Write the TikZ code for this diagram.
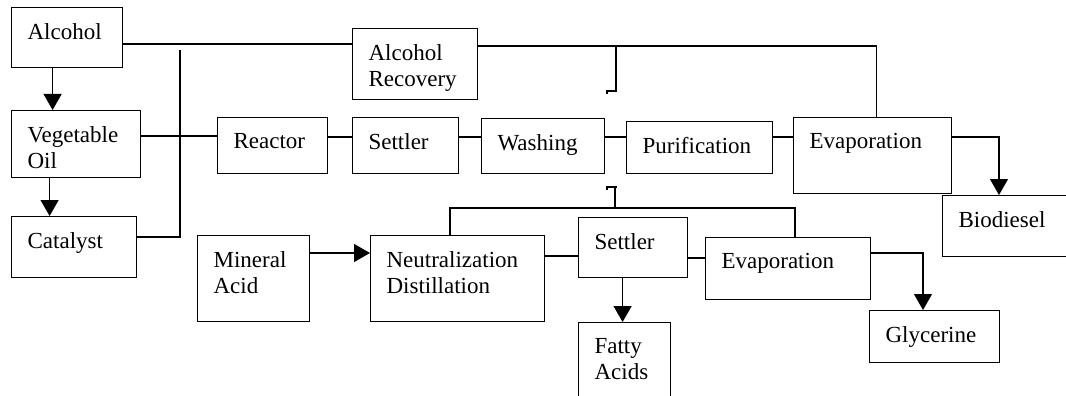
\documentclass[tikz,border=0pt]{standalone}
\usepackage{fontspec}
\setmainfont{Liberation Serif}
\usetikzlibrary{arrows.meta}

\begin{document}
\begin{tikzpicture}[x=1pt,y=-1pt,line width=1.2pt,>={Triangle[width=18pt,length=16pt]}]
    \useasboundingbox (0,0) rectangle (1066,396);
    \tikzstyle{box}=[draw,rectangle,inner sep=0pt,anchor=north west]
    \tikzstyle{lbl}=[anchor=north west,inner sep=0pt,xshift=16pt,yshift=-16pt,align=left,font=\fontsize{23}{26}\selectfont]

    \foreach \n/\x/\y/\w/\h/\txt in {
        alcohol/11/7/111/60/Alcohol,
        veg_oil/11/110/129/67/{Vegetable\\Oil},
        catalyst/11/216/125/61/Catalyst,
        recovery/352/28/125/71/{Alcohol\\Recovery},
        reactor/217/117/110/56/Reactor,
        settler_1/352/117/106/56/Settler,
        washing/481/118/123/55/Washing,
        purification/626/121/146/52/Purification,
        evap_1/793/117/158/76/Evaporation,
        biodiesel/942/195/128/61/Biodiesel,
        mineral/197/235/112/86/{Mineral\\Acid},
        neutral/370/235/174/86/{Neutralization\\Distillation},
        settler_2/578/217/109/60/Settler,
        fatty/578/322/92/80/{Fatty\\Acids},
        evap_2/705/237/165/62/Evaporation,
        glycerine/869/310/130/52/Glycerine} {
        \node[box,minimum width=\w pt,minimum height=\h pt,label={[lbl]north west:{\txt}}] (\n) at (\x,\y) {};
    }

    \coordinate (mix_top) at (180,50);
    \draw[->] ([xshift=-14.5pt]alcohol.south) -- ([xshift=-14.5pt]alcohol.south |- veg_oil.north);
    \draw[->] ([xshift=-26.5pt]veg_oil.south) -- ([xshift=-26.5pt]veg_oil.south |- catalyst.north);
    \draw (alcohol.east |- 0,44) -- (recovery.west |- 0,44);
    \draw (catalyst.east |- 0,237) -| (mix_top);
    \draw (veg_oil.east |- 0,136) -- (reactor.west |- 0,136);
    \foreach \a/\b in {reactor/settler_1,settler_1/washing,washing/purification,purification/evap_1} {
        \draw (\a.east |- 0,137) -- (\b.west |- 0,137);
    }
    \draw (recovery.east |- 0,46) -| ([xshift=4pt]evap_1.north);
    \draw[->] (evap_1.east |- 0,137) -| (biodiesel.north -| 999,0);

    \draw[->] (mineral.east |- 0,253) -- (neutral.west |- 0,253);
    \draw (neutral.east |- 0,256) -- (settler_2.west |- 0,256);
    \draw (settler_2.east |- 0,258) -- (evap_2.west |- 0,258);
    \draw[->] ([xshift=-10.5pt]settler_2.south) -- ([xshift=-10.5pt]settler_2.south |- fatty.north);
    \draw[->] (evap_2.east |- 0,253) -| (glycerine.north -| 923,0);
    \draw (neutral.north -| 450,0) |- (795,208) -- (evap_2.north -| 795,0);

    \coordinate (tap_1) at (616,46);
    \coordinate (tap_2) at (615,208);
    \draw (tap_1) |- (607,91) -- (607,94);
    \draw (tap_2) -- (615,187);
    \draw (607,190) |- (617,187);
\end{tikzpicture}
\end{document}
